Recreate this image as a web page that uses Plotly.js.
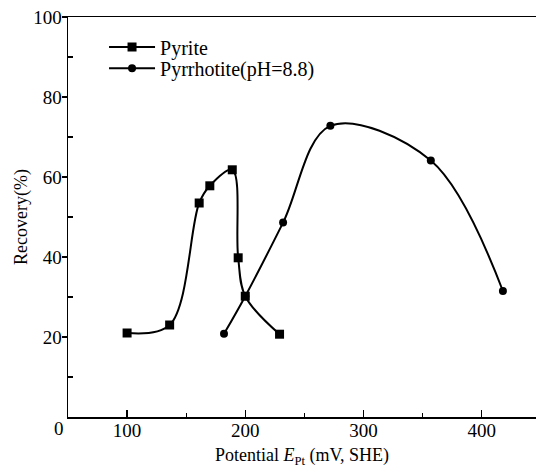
<!DOCTYPE html>
<html>
<head>
<meta charset="utf-8">
<script src="https://cdn.plot.ly/plotly-3.0.1.min.js"></script>
<style>html,body{margin:0;padding:0;background:#fff;}#chart{width:536px;height:469px;}</style>
</head>
<body>
<div id="chart"></div>
<script>
// Pyrite series
const pyriteX = [100, 136, 161, 170, 189, 194, 200, 229];
const pyriteY = [21.0, 23.0, 53.5, 57.8, 61.8, 39.8, 30.2, 20.7];
// Pyrrhotite (pH = 8.8) series
const pyrrhotiteX = [182, 200, 232, 272, 357, 418];
const pyrrhotiteY = [20.8, 30.2, 48.6, 72.8, 64.1, 31.5];
// axis ticks
const xTicks = [100, 200, 300, 400];
const xMinor = [150, 250, 350];
const yTicks = [20, 40, 60, 80, 100];
const yMinor = [10, 30, 50, 70, 90];
const seriesNames = ['Pyrite', 'Pyrrhotite(pH=8.8)'];

const FONT = '"Times New Roman", Times, "Liberation Serif", "DejaVu Serif", serif';

const traces = [
  {
    x: pyriteX, y: pyriteY, name: seriesNames[0], type: 'scatter', mode: 'lines+markers',
    legend: 'legend',
    line: {color: '#000', width: 2, shape: 'spline', smoothing: 1.0},
    marker: {symbol: 'square', size: 9, color: '#000'}
  },
  {
    x: pyrrhotiteX, y: pyrrhotiteY, name: seriesNames[1], type: 'scatter', mode: 'lines+markers',
    legend: 'legend2',
    line: {color: '#000', width: 2, shape: 'spline', smoothing: 1.0},
    marker: {symbol: 'circle', size: 8, color: '#000'}
  }
];

const legendBase = {
  xanchor: 'left', yanchor: 'middle',
  bgcolor: 'rgba(0,0,0,0)', borderwidth: 0,
  itemwidth: 46,
  font: {family: FONT, size: 20, color: '#000'}
};

const layout = {
  width: 536, height: 469,
  margin: {l: 68, r: 0, t: 17, b: 52},
  paper_bgcolor: '#fff', plot_bgcolor: '#fff',
  font: {family: FONT, size: 19, color: '#000'},
  showlegend: true,
  legend: Object.assign({}, legendBase, {x: 0.077, y: 0.925}),
  legend2: Object.assign({}, legendBase, {x: 0.077, y: 0.872}),
  xaxis: {
    range: [50, 446], showgrid: false, zeroline: false,
    showline: true, linecolor: '#000', linewidth: 1.5, mirror: true,
    tickmode: 'array', tickvals: xTicks,
    ticks: 'inside', ticklen: 7, tickwidth: 1.2, tickcolor: '#000',
    tickfont: {family: FONT, size: 19},
    ticklabelstandoff: -4,
    minor: {tickmode: 'array', tickvals: xMinor, ticks: 'inside', ticklen: 4, tickwidth: 1.2, tickcolor: '#000', showgrid: false},
    title: {text: 'Potential <i>E</i><sub>Pt</sub> (mV, SHE)', font: {family: FONT, size: 18}, standoff: 8}
  },
  yaxis: {
    range: [0, 100], showgrid: false, zeroline: false,
    showline: true, linecolor: '#000', linewidth: 1.5,
    tickmode: 'array', tickvals: yTicks,
    ticks: 'outside', ticklen: 5, tickwidth: 1.2, tickcolor: '#000',
    tickfont: {family: FONT, size: 19},
    ticklabelstandoff: -4,
    minor: {tickmode: 'array', tickvals: yMinor, ticks: 'inside', ticklen: 5, tickwidth: 1.2, tickcolor: '#000', showgrid: false},
    title: {text: 'Recovery(%)', font: {family: FONT, size: 18}, standoff: 1}
  },
  annotations: [
    {text: '0', xref: 'paper', yref: 'paper', x: -0.019, y: -0.028, xanchor: 'center', yanchor: 'middle',
     showarrow: false, font: {family: FONT, size: 19, color: '#000'}}
  ]
};

Plotly.newPlot('chart', traces, layout, {displayModeBar: false, staticPlot: true});
</script>
</body>
</html>
